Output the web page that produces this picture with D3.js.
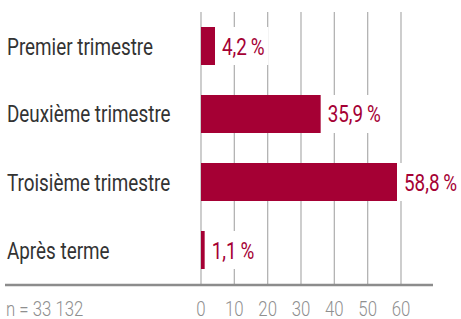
<!DOCTYPE html>
<html>
<head>
<meta charset="utf-8">
<script src="https://cdn.jsdelivr.net/npm/d3@7"></script>
<style>
  body { margin: 0; background: #fff; }
  svg text { font-family: Roboto, "Liberation Sans", sans-serif; }
</style>
</head>
<body>
<div id="chart"></div>
<script>
const categories = ["Premier trimestre", "Deuxième trimestre", "Troisième trimestre", "Après terme"];
const shares = [4.2, 35.9, 58.8, 1.1];
const tickValues = [0, 10, 20, 30, 40, 50, 60];
const sampleNote = "n = 33 132";

const width = 461, height = 319;
const barColor = "#a50034";
const squeeze = 0.82; // the original face is a condensed one

const svg = d3.select("#chart")
    .append("svg")
    .attr("width", width)
    .attr("height", height);

const x = d3.scaleLinear().domain([0, 60]).range([201, 401]);
const y = d3.scaleBand()
    .domain(categories)
    .range([12, 284])
    .paddingInner(30 / 68)
    .paddingOuter(15 / 68);

// narrow text: scale horizontally, so x is given in unscaled units
function narrowText(sel, px) {
    sel.attr("transform", `scale(${squeeze},1)`)
        .attr("x", d => px(d) / squeeze);
}

// gridlines
svg.append("g")
    .selectAll("line")
    .data(tickValues)
    .enter()
    .append("line")
    .attr("x1", d => x(d))
    .attr("x2", d => x(d))
    .attr("y1", 12)
    .attr("y2", 285)
    .attr("stroke", "#b3b3b3")
    .attr("stroke-width", 1.3);

const data = categories.map((c, i) => ({ label: c, value: shares[i] }));
const fmt = v => d3.format(".1f")(v).replace(".", ",") + "\u2009%";

const rows = svg.append("g")
    .selectAll("g")
    .data(data)
    .enter()
    .append("g");

const labels = rows.append("text")
    .attr("y", d => y(d.label) + y.bandwidth() / 2)
    .attr("dy", "0.37em")
    .attr("font-size", "23px")
    .attr("fill", barColor)
    .text(d => fmt(d.value))
    .call(narrowText, d => x(d.value) + 7);

// white backing behind the value label hides the gridlines
labels.each(function(d) {
    const w = this.getComputedTextLength() * squeeze;
    d3.select(this.parentNode).insert("rect", "text")
        .attr("x", x(d.value))
        .attr("y", y(d.label))
        .attr("width", w + 11)
        .attr("height", y.bandwidth())
        .attr("fill", "#fff");
});

rows.append("rect")
    .attr("x", x(0))
    .attr("y", d => y(d.label))
    .attr("width", d => x(d.value) - x(0))
    .attr("height", y.bandwidth())
    .attr("fill", barColor);

// category labels
svg.append("g")
    .selectAll("text")
    .data(categories)
    .enter()
    .append("text")
    .attr("y", d => y(d) + y.bandwidth() / 2)
    .attr("dy", "0.37em")
    .attr("font-size", "23px")
    .attr("fill", "#333")
    .text(d => d)
    .call(narrowText, () => 7);

// baseline
svg.append("line")
    .attr("x1", 5)
    .attr("x2", 433)
    .attr("y1", 285)
    .attr("y2", 285)
    .attr("stroke", "#8c8c8c")
    .attr("stroke-width", 2.5);

// tick labels
svg.append("g")
    .selectAll("text")
    .data(tickValues)
    .enter()
    .append("text")
    .attr("y", 316)
    .attr("text-anchor", "middle")
    .attr("font-size", "20.5px")
    .attr("font-weight", 300)
    .attr("fill", "#8f8f8f")
    .text(d => d)
    .call(narrowText, d => x(d));

svg.append("text")
    .datum(sampleNote)
    .attr("y", 316)
    .attr("font-size", "20.5px")
    .attr("font-weight", 300)
    .attr("fill", "#8f8f8f")
    .text(d => d)
    .call(narrowText, () => 6);
</script>
</body>
</html>
